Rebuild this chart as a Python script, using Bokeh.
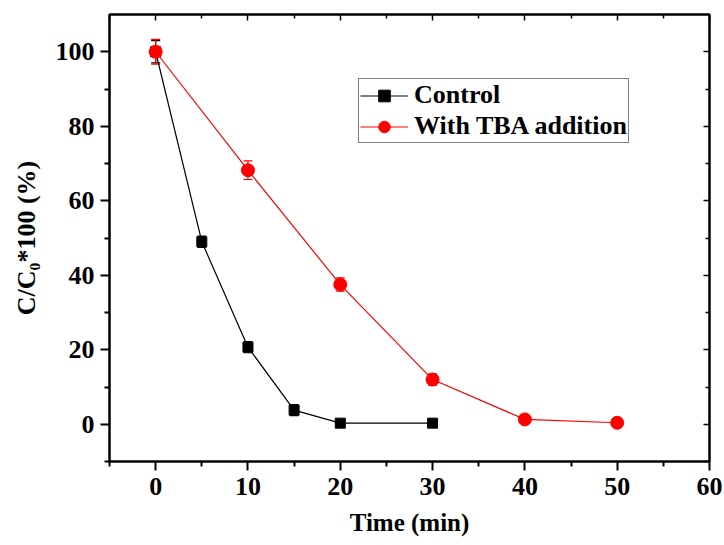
from bokeh.plotting import figure
from bokeh.models import LinearAxis, Whisker, TeeHead, ColumnDataSource, Legend, LegendItem, Range1d, FixedTicker, Title
from bokeh.embed import file_html
from bokeh.resources import INLINE

ctrl_t = [0, 5, 10, 15, 20, 30]
ctrl_c = [100, 49, 20.7, 3.8, 0.3, 0.3]
ctrl_e = [3.0, 1.5, 1.5, 1.5, 0.3, 0.3]

tba_t = [0, 10, 20, 30, 40, 50]
tba_c = [100, 68.2, 37.5, 12.0, 1.3, 0.4]
tba_e = [3.3, 2.5, 1.8, 1.5, 0.5, 0.3]

x_ticks = [0, 10, 20, 30, 40, 50, 60]
x_minor = [-5, 5, 15, 25, 35, 45, 55]
y_ticks = [0, 20, 40, 60, 80, 100]
y_minor = [-10, 10, 30, 50, 70, 90]

x_title = "Time (min)"
y_title = "C/C\u2080*100 (%)"

FONT = "Liberation Serif"

p = figure(width=724, height=545, output_backend="svg", toolbar_location=None,
           x_range=Range1d(-5, 60), y_range=Range1d(-10, 110),
           min_border_left=109, min_border_right=15, min_border_top=14, min_border_bottom=84)
p.grid.visible = False
p.outline_line_color = "black"
p.outline_line_width = 2
p.background_fill_color = "white"

for ax in (p.xaxis[0], p.yaxis[0]):
    ax.axis_line_width = 2
    ax.major_tick_line_width = 2
    ax.minor_tick_line_width = 2
    ax.major_tick_out = 9
    ax.major_tick_in = 0
    ax.minor_tick_out = 5
    ax.minor_tick_in = 0
    ax.major_label_text_font = FONT
    ax.major_label_text_font_style = "bold"
    ax.major_label_text_font_size = "26px"
    ax.major_label_text_color = "black"
    ax.axis_label_text_font = FONT
    ax.axis_label_text_font_style = "bold"
    ax.axis_label_text_color = "black"

p.xaxis[0].ticker = FixedTicker(ticks=x_ticks, minor_ticks=x_minor)
p.yaxis[0].ticker = FixedTicker(ticks=y_ticks, minor_ticks=y_minor)
p.yaxis[0].axis_label = y_title
p.yaxis[0].axis_label_text_font_size = "26px"
p.xaxis[0].major_label_standoff = 7
p.yaxis[0].major_label_standoff = 6
p.yaxis[0].axis_label_standoff = 12

# x-axis title placed in the panel below the axis
p.add_layout(Title(text=x_title, align="center", text_font=FONT, text_font_style="bold",
                   text_font_size="25px", text_color="black", standoff=19), "below")

top = LinearAxis(ticker=FixedTicker(ticks=x_ticks, minor_ticks=x_minor))
right = LinearAxis(ticker=FixedTicker(ticks=y_ticks, minor_ticks=y_minor))
for ax in (top, right):
    ax.major_label_text_font_size = "0px"
    ax.major_label_text_alpha = 0
    ax.axis_line_width = 2
    ax.major_tick_line_width = 1.5
    ax.minor_tick_line_width = 1.5
    ax.major_tick_in = 6
    ax.major_tick_out = 0
    ax.minor_tick_in = 4
    ax.minor_tick_out = 0
    ax.major_label_standoff = 0
p.add_layout(top, "above")
p.add_layout(right, "right")

src_c = ColumnDataSource(dict(x=ctrl_t, y=ctrl_c,
                              lo=[a - b for a, b in zip(ctrl_c, ctrl_e)],
                              hi=[a + b for a, b in zip(ctrl_c, ctrl_e)]))
src_t = ColumnDataSource(dict(x=tba_t, y=tba_c,
                              lo=[a - b for a, b in zip(tba_c, tba_e)],
                              hi=[a + b for a, b in zip(tba_c, tba_e)]))

for src, col in ((src_c, "black"), (src_t, "red")):
    w = Whisker(source=src, base="x", lower="lo", upper="hi", line_color=col, line_width=1.2,
                upper_head=TeeHead(size=9, line_color=col, line_width=1.2),
                lower_head=TeeHead(size=9, line_color=col, line_width=1.2))
    p.add_layout(w)

lc = p.line("x", "y", source=src_c, line_color="black", line_width=1.2)
sc = p.scatter("x", "y", source=src_c, marker="square", size=10, fill_color="black", line_color="black")
lt = p.line("x", "y", source=src_t, line_color="red", line_width=1.2)
st = p.scatter("x", "y", source=src_t, marker="circle", size=13, fill_color="red", line_color="red")

legend = Legend(items=[LegendItem(label="Control", renderers=[lc, sc]),
                       LegendItem(label="With TBA addition", renderers=[lt, st])],
                location=(249, 318))
legend.border_line_color = "black"
legend.border_line_width = 1
legend.label_text_font = FONT
legend.label_text_font_style = "bold"
legend.label_text_font_size = "26px"
legend.label_text_color = "black"
legend.glyph_width = 48
legend.glyph_height = 29
legend.label_height = 29
legend.label_standoff = 6
legend.spacing = 1
legend.padding = 1
legend.margin = 0
p.add_layout(legend, "center")

open("out.html", "w").write(file_html(p, INLINE))
